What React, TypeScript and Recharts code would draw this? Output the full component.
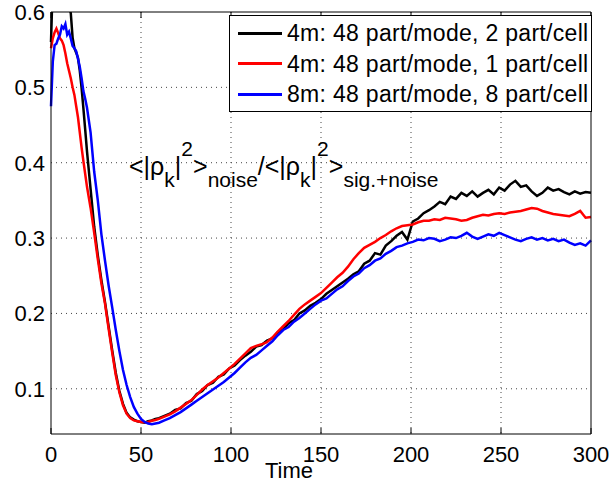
import React from "react";
import { LineChart, Line, XAxis, YAxis, CartesianGrid } from "recharts";

// time samples (finer at the start where the curves drop fast)
const times = [
  0, 1, 2, 3, 4, 5, 6, 7, 8, 9, 10, 11, 12, 13, 14, 15, 16, 17, 18, 19, 20,
  22, 24, 26, 28, 30, 32, 34, 36, 38, 40, 42, 44, 46, 48, 50, 52, 54, 56, 58, 60,
  63, 66, 69, 72, 75, 78, 81, 84, 87, 90,
  93, 96, 99, 102, 105, 108, 111, 114, 117, 120,
  123, 126, 129, 132, 135, 138, 141, 144, 147, 150,
  153, 156, 159, 162, 165, 168, 171, 174, 177, 180,
  183, 186, 189, 192, 195, 198, 201, 204, 207, 210,
  213, 216, 219, 222, 225, 228, 231, 234, 237, 240,
  243, 246, 249, 252, 255, 258, 261, 264, 267, 270,
  273, 276, 279, 282, 285, 288, 291, 294, 297, 300,
];

// 4m: 48 part/mode, 2 part/cell
const black4m2 = [
  0.56, 0.64, 0.66, 0.67, 0.675, 0.67, 0.665, 0.66, 0.645, 0.625, 0.61, 0.598, 0.566, 0.552, 0.546, 0.539, 0.522, 0.499, 0.472, 0.444, 0.415,
  0.365, 0.315, 0.277, 0.244, 0.215, 0.183, 0.151, 0.121, 0.097, 0.08, 0.068, 0.062, 0.059, 0.057, 0.056, 0.055, 0.057, 0.058, 0.06, 0.061,
  0.064, 0.067, 0.072, 0.074, 0.081, 0.084, 0.093, 0.097, 0.105, 0.108,
  0.116, 0.119, 0.127, 0.131, 0.138, 0.144, 0.149, 0.156, 0.158, 0.164,
  0.167, 0.175, 0.179, 0.187, 0.191, 0.2, 0.204, 0.21, 0.214, 0.219,
  0.226, 0.231, 0.236, 0.241, 0.246, 0.252, 0.256, 0.266, 0.27, 0.28,
  0.278, 0.29, 0.296, 0.303, 0.308, 0.298, 0.322, 0.326, 0.333, 0.337,
  0.342, 0.348, 0.345, 0.355, 0.352, 0.36, 0.356, 0.362, 0.355, 0.36,
  0.364, 0.358, 0.367, 0.363, 0.371, 0.376, 0.368, 0.37, 0.362, 0.356,
  0.36, 0.367, 0.363, 0.365, 0.361, 0.358, 0.362, 0.359, 0.361, 0.36,
];

// 4m: 48 part/mode, 1 part/cell
const red4m1 = [
  0.552, 0.565, 0.573, 0.578, 0.572, 0.565, 0.562, 0.556, 0.545, 0.532, 0.522, 0.512, 0.5, 0.49, 0.475, 0.46, 0.44, 0.42, 0.402, 0.385, 0.368,
  0.34, 0.307, 0.272, 0.24, 0.213, 0.18, 0.148, 0.118, 0.095, 0.078, 0.067, 0.061, 0.058, 0.057, 0.056, 0.0555, 0.056, 0.0575, 0.0585, 0.06,
  0.063, 0.066, 0.07, 0.075, 0.08, 0.085, 0.092, 0.099, 0.105, 0.11,
  0.115, 0.121, 0.127, 0.133, 0.14, 0.147, 0.154, 0.157, 0.159, 0.162,
  0.168, 0.176, 0.183, 0.19, 0.198, 0.206, 0.212, 0.217, 0.222, 0.227,
  0.234, 0.241, 0.248, 0.254, 0.262, 0.272, 0.28, 0.287, 0.291, 0.295,
  0.3, 0.304, 0.309, 0.313, 0.316, 0.317, 0.318, 0.321, 0.323, 0.323,
  0.325, 0.324, 0.327, 0.326, 0.325, 0.323, 0.324, 0.327, 0.329, 0.331,
  0.33, 0.332, 0.333, 0.332, 0.334, 0.335, 0.336, 0.338, 0.34, 0.339,
  0.336, 0.334, 0.332, 0.331, 0.33, 0.329, 0.332, 0.336, 0.327, 0.328,
];

// 8m: 48 part/mode, 8 part/cell
const blue8m8 = [
  0.475, 0.534, 0.556, 0.558, 0.565, 0.57, 0.581, 0.578, 0.584, 0.57, 0.574, 0.565, 0.555, 0.552, 0.548, 0.538, 0.527, 0.512, 0.495, 0.485, 0.473,
  0.44, 0.388, 0.35, 0.305, 0.27, 0.237, 0.208, 0.178, 0.15, 0.125, 0.105, 0.089, 0.076, 0.067, 0.06, 0.056, 0.054, 0.053, 0.054, 0.055,
  0.058, 0.061, 0.065, 0.069, 0.074, 0.079, 0.084, 0.089, 0.094, 0.099,
  0.104, 0.109, 0.115, 0.121, 0.128, 0.135, 0.141, 0.145, 0.151, 0.157,
  0.163, 0.171, 0.178, 0.182, 0.189, 0.194, 0.2, 0.206, 0.212, 0.217,
  0.22, 0.226, 0.232, 0.236, 0.243, 0.249, 0.253, 0.26, 0.264, 0.27,
  0.273, 0.279, 0.283, 0.288, 0.29, 0.293, 0.295, 0.298, 0.297, 0.3,
  0.299, 0.296, 0.298, 0.301, 0.3, 0.303, 0.307, 0.302, 0.299, 0.302,
  0.305, 0.303, 0.307, 0.304, 0.301, 0.298, 0.296, 0.299, 0.301, 0.298,
  0.3, 0.297, 0.299, 0.296, 0.298, 0.294, 0.291, 0.293, 0.29, 0.297,
];

const xTicks = [0, 50, 100, 150, 200, 250, 300];
const yTicks = [0.1, 0.2, 0.3, 0.4, 0.5, 0.6];
const xGrid = [50, 100, 150, 200, 250];
const yGrid = [0.1, 0.2, 0.3, 0.4, 0.5];

const series = [
  { key: "black", name: "4m: 48 part/mode, 2 part/cell", color: "#000000" },
  { key: "red", name: "4m: 48 part/mode, 1 part/cell", color: "#ff0000" },
  { key: "blue", name: "8m: 48 part/mode, 8 part/cell", color: "#0000ff" },
];

const data = times.map((t, i) => ({ t, black: black4m2[i], red: red4m1[i], blue: blue8m8[i] }));

const FONT = "'Liberation Sans', Arial, Helvetica, sans-serif";

const BottomTick = (p: any) => (
  <g>
    <line x1={p.x} y1={p.y} x2={p.x} y2={p.y - 6} stroke="#000" />
    <text x={p.x} y={p.y + 28} textAnchor="middle" fontSize={22} fontFamily={FONT} fill="#000">
      {p.payload.value}
    </text>
  </g>
);
const TopTick = (p: any) => <line x1={p.x} y1={p.y} x2={p.x} y2={p.y + 6} stroke="#000" />;

const sub: React.CSSProperties = { fontSize: 21, position: "relative", top: 12 };
const sup: React.CSSProperties = { fontSize: 21, position: "relative", top: -19 };

export default function App() {
  return (
    <div style={{ position: "absolute", left: 0, top: 0, fontFamily: FONT }}>
      <LineChart width={611} height={483} data={data} margin={{ top: 11, right: 19, bottom: 9, left: 0 }}>
        <CartesianGrid stroke="#444" strokeDasharray="1 4" verticalValues={xGrid} horizontalValues={yGrid} />
        <XAxis dataKey="t" type="number" domain={[0, 300]} ticks={xTicks} interval={0} height={40}
          tickSize={0} tickMargin={0} tickLine={false} tick={BottomTick} axisLine={{ stroke: "#000" }} />
        <XAxis xAxisId="top" orientation="top" dataKey="t" type="number" domain={[0, 300]} ticks={xTicks}
          interval={0} height={1} tickSize={0} tickMargin={0} tickLine={false} tick={TopTick} axisLine={{ stroke: "#000" }} />
        <YAxis type="number" domain={[0.04, 0.6]} allowDataOverflow ticks={yTicks} interval={0} width={51}
          tickSize={0} tickMargin={6} tickLine={false} axisLine={{ stroke: "#000" }}
          tickFormatter={(v: number) => v.toFixed(1)}
          tick={{ fontSize: 22, fill: "#000", fontFamily: FONT }} />
        <YAxis yAxisId="right" orientation="right" type="number" domain={[0.04, 0.6]} allowDataOverflow ticks={yTicks}
          interval={0} width={1} tickSize={0} tickMargin={0} tickLine={false} tick={false} axisLine={{ stroke: "#000" }} />
        <Line dataKey="black" stroke="#000000" strokeWidth={2.5} dot={false} isAnimationActive={false} />
        <Line dataKey="red" stroke="#ff0000" strokeWidth={2.5} dot={false} isAnimationActive={false} />
        <Line dataKey="blue" stroke="#0000ff" strokeWidth={2.5} dot={false} isAnimationActive={false} />
      </LineChart>

      <div style={{ position: "absolute", left: 129, top: 154, fontSize: 25, lineHeight: "25px", whiteSpace: "nowrap", color: "#000" }}>
        {"<|ρ"}<span style={sub}>k</span>|<span style={sup}>2</span>{">"}<span style={sub}>noise</span>
        {"/<|ρ"}<span style={sub}>k</span>|<span style={sup}>2</span>{">"}<span style={sub}>sig.+noise</span>
      </div>

      <div style={{ position: "absolute", left: 239, width: 100, top: 460, textAlign: "center", fontSize: 22, lineHeight: "22px", color: "#000" }}>
        Time
      </div>

      <div
        style={{
          position: "absolute",
          left: 229,
          top: 15,
          width: 361,
          height: 95,
          border: "1px solid #000",
          background: "#fff",
        }}
      >
        {series.map((s, i) => (
          <div
            key={s.key}
            style={{
              position: "absolute",
              left: 8,
              top: 2 + i * 30.5,
              height: 30,
              display: "flex",
              alignItems: "center",
              whiteSpace: "nowrap",
            }}
          >
            <div style={{ width: 44, height: 3, background: s.color }} />
            <span style={{ marginLeft: 5, fontSize: 23, letterSpacing: 0.3, lineHeight: "30px", color: "#000" }}>
              {s.name}
            </span>
          </div>
        ))}
      </div>
    </div>
  );
}
